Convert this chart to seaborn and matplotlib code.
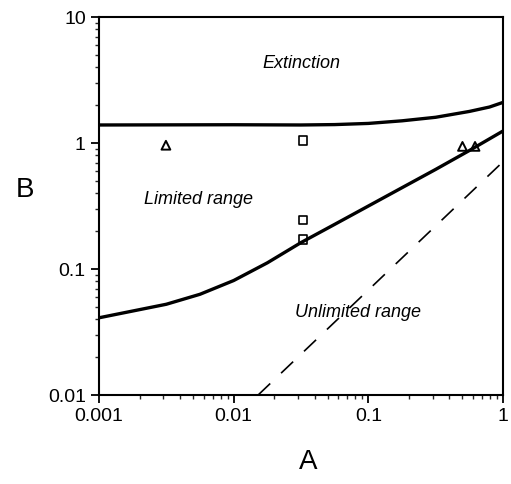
import numpy as np
import pandas as pd
import matplotlib
matplotlib.use("Agg")
import matplotlib.pyplot as plt
import seaborn as sns

# Upper boundary (Extinction / Limited range)
upper_A = [0.001, 0.01, 0.0316, 0.0562, 0.1, 0.178, 0.316, 0.562, 0.794, 1.0]
upper_B = [1.39, 1.396, 1.39, 1.40, 1.43, 1.50, 1.60, 1.78, 1.93, 2.10]

# Lower boundary (Limited / Unlimited range)
lower_A = [0.001, 0.00316, 0.00562, 0.01, 0.0178, 0.0316, 0.0562, 0.1, 0.178, 0.316, 0.562, 1.0]
lower_B = [0.041, 0.0525, 0.063, 0.081, 0.112, 0.162, 0.226, 0.316, 0.442, 0.617, 0.871, 1.245]

# Dashed reference line
dash_A = [0.0152, 1.0]
dash_B = [0.01, 0.71]

# Observations
tri_A = [0.00314, 0.50, 0.62]
tri_B = [0.96, 0.94, 0.94]
sq_A = [0.0327, 0.0327, 0.0327]
sq_B = [1.04, 0.245, 0.172]

sns.set_style("ticks")
plt.rcParams['font.family'] = ['Liberation Sans', 'DejaVu Sans']

fig = plt.figure(figsize=(5.11, 4.84), dpi=100)
ax = fig.add_axes([99/511, 1-395/484, (503-99)/511, (395-17)/484])

sns.lineplot(x=upper_A, y=upper_B, ax=ax, color="black", lw=2.4, sort=False)
sns.lineplot(x=lower_A, y=lower_B, ax=ax, color="black", lw=2.4, sort=False)
sns.lineplot(x=dash_A, y=dash_B, ax=ax, color="black", lw=1.2, sort=False)
ax.lines[-1].set_dashes([10, 9])
sns.scatterplot(x=tri_A, y=tri_B, ax=ax, marker="^", s=40, facecolor="none",
                edgecolor="black", linewidth=1.4)
sns.scatterplot(x=sq_A, y=sq_B, ax=ax, marker="s", s=40, facecolor="none",
                edgecolor="black", linewidth=1.2)

ax.set_xscale("log")
ax.set_yscale("log")
ax.set_xlim(0.001, 1)
ax.set_ylim(0.01, 10)
ax.set_xticks([0.001, 0.01, 0.1, 1])
ax.set_xticklabels(["0.001", "0.01", "0.1", "1"])
ax.set_yticks([0.01, 0.1, 1, 10])
ax.set_yticklabels(["0.01", "0.1", "1", "10"])
for s in ax.spines.values():
    s.set_visible(True)
    s.set_linewidth(1.5)
    s.set_color("black")
ax.tick_params(which="major", direction="out", length=6, width=1.3, labelsize=14, colors="black")
ax.tick_params(which="minor", direction="out", length=3, width=1.0)

ax.text(0.0321, 4.3, "Extinction", style="italic", fontsize=13, ha="center", va="center", color="black")
ax.text(0.0055, 0.353, "Limited range", style="italic", fontsize=13, ha="center", va="center", color="black")
ax.text(0.0837, 0.045, "Unlimited range", style="italic", fontsize=13, ha="center", va="center", color="black")

fig.text(25/511, 1-190/484, "B", fontsize=20, ha="center", va="center", color="black")
fig.text(308/511, 1-462/484, "A", fontsize=20, ha="center", va="center", color="black")

fig.savefig("out.png", dpi=100, facecolor="white")
